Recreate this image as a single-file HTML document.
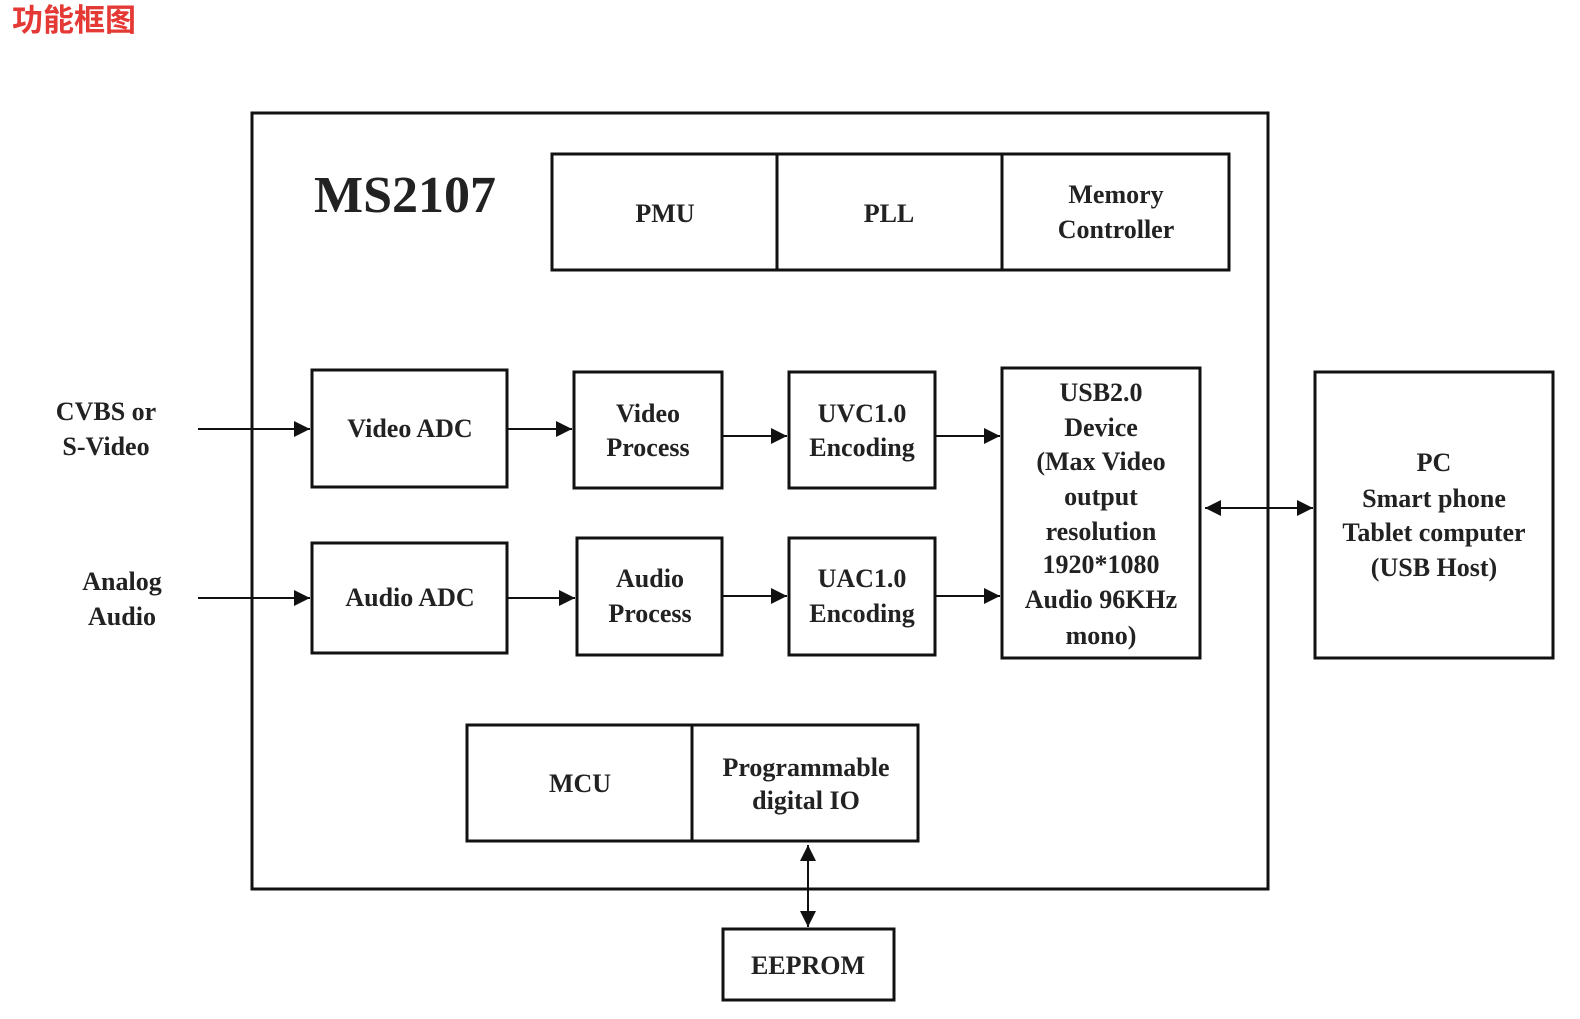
<!DOCTYPE html>
<html><head><meta charset="utf-8"><style>
html,body{margin:0;padding:0;background:#fff;width:1580px;height:1019px;overflow:hidden}
</style></head><body>
<svg width="1580" height="1019" xmlns="http://www.w3.org/2000/svg">
<defs>
<marker id="b" viewBox="0 0 10 10" markerWidth="22" markerHeight="16" refX="10" refY="5" orient="auto-start-reverse" markerUnits="userSpaceOnUse"><path d="M0,0 L10,5 L0,10 Z" fill="#111"/></marker></defs>
<text x="12" y="31" font-family="'Liberation Sans','Noto Sans CJK SC',sans-serif" font-size="31" font-weight="bold" fill="#e53935">功能框图</text>
<g fill="none" stroke="#111" stroke-width="3">
<rect x="252" y="113" width="1016" height="776"/>
<rect x="552" y="154" width="677" height="116"/>
<line x1="777" y1="154" x2="777" y2="270"/><line x1="1002" y1="154" x2="1002" y2="270"/>
<rect x="312" y="370" width="195" height="117"/>
<rect x="574" y="372" width="148" height="116"/>
<rect x="789" y="372" width="146" height="116"/>
<rect x="1002" y="368" width="198" height="290"/>
<rect x="312" y="543" width="195" height="110"/>
<rect x="577" y="538" width="145" height="117"/>
<rect x="789" y="538" width="146" height="117"/>
<rect x="1315" y="372" width="238" height="286"/>
<rect x="467" y="725" width="451" height="116"/>
<line x1="692" y1="725" x2="692" y2="841"/>
<rect x="723" y="929" width="171" height="71"/>
</g>
<g stroke="#111" stroke-width="2" marker-end="url(#b)">
<line x1="198" y1="429" x2="310" y2="429"/><line x1="507" y1="429" x2="572" y2="429"/>
<line x1="722" y1="436" x2="787" y2="436"/><line x1="935" y1="436" x2="1000" y2="436"/>
<line x1="198" y1="598" x2="310" y2="598"/><line x1="507" y1="598" x2="575" y2="598"/>
<line x1="722" y1="596" x2="787" y2="596"/><line x1="935" y1="596" x2="1000" y2="596"/>
<line x1="1205" y1="508" x2="1313" y2="508" marker-start="url(#b)"/>
<line x1="808" y1="845" x2="808" y2="927" marker-start="url(#b)"/>
</g>
<g font-family="'Liberation Serif',serif" font-weight="bold" font-size="26" fill="#222" text-anchor="middle">
<text x="405" y="212" font-size="52">MS2107</text>
<text x="665" y="222">PMU</text><text x="889" y="222">PLL</text>
<text x="1116" y="203">Memory</text><text x="1116" y="238">Controller</text>
<text x="106" y="420">CVBS or</text><text x="106" y="455">S-Video</text>
<text x="122" y="590">Analog</text><text x="122" y="625">Audio</text>
<text x="410" y="437">Video ADC</text><text x="410" y="606">Audio ADC</text>
<text x="648" y="422">Video</text><text x="648" y="456">Process</text>
<text x="650" y="587">Audio</text><text x="650" y="622">Process</text>
<text x="862" y="422">UVC1.0</text><text x="862" y="456">Encoding</text>
<text x="862" y="587">UAC1.0</text><text x="862" y="622">Encoding</text>
<text x="1101" y="401">USB2.0</text><text x="1101" y="436">Device</text><text x="1101" y="470">(Max Video</text>
<text x="1101" y="505">output</text><text x="1101" y="540">resolution</text><text x="1101" y="573">1920*1080</text>
<text x="1101" y="608">Audio 96KHz</text><text x="1101" y="644">mono)</text>
<text x="1434" y="471">PC</text><text x="1434" y="507">Smart phone</text><text x="1434" y="541">Tablet computer</text><text x="1434" y="576">(USB Host)</text>
<text x="580" y="792">MCU</text>
<text x="806" y="776">Programmable</text><text x="806" y="809">digital IO</text>
<text x="808" y="974">EEPROM</text>
</g>
</svg>
</body></html>
